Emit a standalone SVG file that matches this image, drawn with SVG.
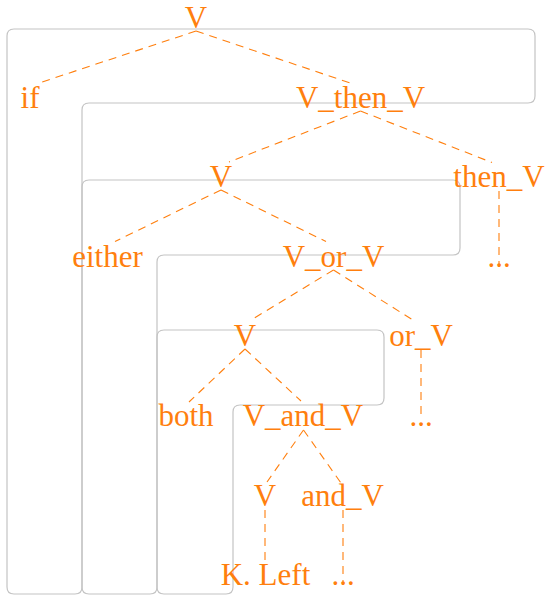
<svg xmlns="http://www.w3.org/2000/svg" width="545" height="597" viewBox="0 0 545 597">
<style>
.box{fill:none;stroke:#c4c4c4;stroke-width:1.2}
.e{stroke:#ff7f0e;stroke-width:1.1;stroke-dasharray:8,6;fill:none}
.t{font-family:"Liberation Serif","Times New Roman",serif;font-size:31px;fill:#ff7f0e;text-anchor:middle}
</style>
<rect width="545" height="597" fill="#ffffff"/>
<g id="boxes">
<path class="box" d="M7,36 Q7,29 14,29 H528 Q535,29 535,36 V96 Q535,103 528,103 H89 Q82,103 82,110 V587 Q82,594 75,594 H14 Q7,594 7,587 Z"/>
<path class="box" d="M82,187 Q82,180 89,180 H453 Q460,180 460,187 V248 Q460,255 453,255 H164 Q157,255 157,262 V587 Q157,594 150,594 H89 Q82,594 82,587 Z"/>
<path class="box" d="M157,337 Q157,330 164,330 H377 Q384,330 384,337 V398 Q384,405 377,405 H240 Q233,405 233,412 V587 Q233,594 226,594 H164 Q157,594 157,587 Z"/>
</g>
<g id="connectors">
<line class="e" x1="196" y1="31" x2="37.6" y2="83.5"/>
<line class="e" x1="196" y1="31" x2="353" y2="84"/>
<line class="e" x1="360.5" y1="111" x2="229" y2="162"/>
<line class="e" x1="360.5" y1="111" x2="492" y2="162.5"/>
<line class="e" x1="499" y1="191" x2="499" y2="264"/>
<line class="e" x1="221" y1="190" x2="115" y2="241.5"/>
<line class="e" x1="221" y1="190" x2="326" y2="241.5"/>
<line class="e" x1="333.5" y1="270" x2="251" y2="320"/>
<line class="e" x1="333.5" y1="270" x2="416" y2="322"/>
<line class="e" x1="421" y1="350" x2="421" y2="420"/>
<line class="e" x1="245" y1="349" x2="189" y2="402"/>
<line class="e" x1="245" y1="349" x2="301" y2="401"/>
<line class="e" x1="303.5" y1="430" x2="267" y2="482"/>
<line class="e" x1="303.5" y1="430" x2="341" y2="483"/>
<line class="e" x1="265" y1="510" x2="265" y2="562"/>
<line class="e" x1="343" y1="510" x2="343" y2="583"/>
</g>
<g id="n0"><text class="t" x="196" y="28">V</text></g>
<g id="n1"><text class="t" x="30" y="107.5">if</text></g>
<g id="n2"><text class="t" x="360.5" y="107.5">V_then_V</text></g>
<g id="n3"><text class="t" x="221" y="187">V</text></g>
<g id="n4"><text class="t" x="499" y="187">then_V</text></g>
<g id="n5"><text class="t" x="107.5" y="267">either</text></g>
<g id="n6"><text class="t" x="333.5" y="267">V_or_V</text></g>
<g id="n7"><text class="t" x="499" y="267">...</text></g>
<g id="n8"><text class="t" x="245" y="346">V</text></g>
<g id="n9"><text class="t" x="421" y="346">or_V</text></g>
<g id="n10"><text class="t" x="186" y="426">both</text></g>
<g id="n11"><text class="t" x="303" y="426">V_and_V</text></g>
<g id="n12"><text class="t" x="421" y="426">...</text></g>
<g id="n13"><text class="t" x="265" y="506">V</text></g>
<g id="n14"><text class="t" x="342.5" y="506">and_V</text></g>
<g id="n15"><text class="t" x="265.5" y="585">K. Left</text></g>
<g id="n16"><text class="t" x="343" y="585">...</text></g>
</svg>
